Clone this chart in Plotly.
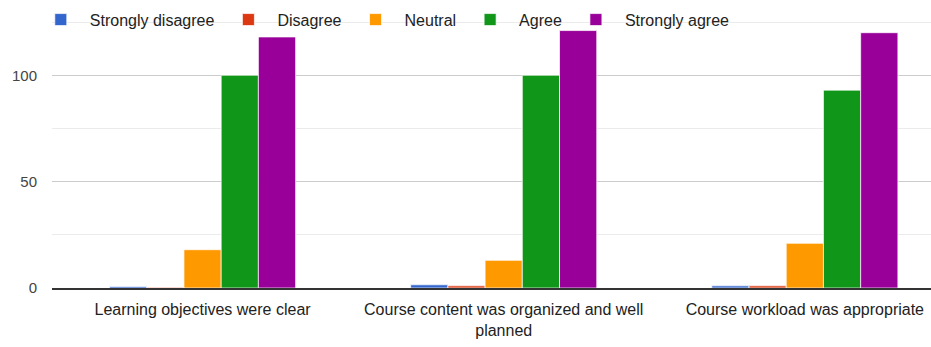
import plotly.graph_objects as go

# Survey responses per statement
categories = [
    "Learning objectives were clear",
    "Course content was organized and well<br>planned",
    "Course workload was appropriate",
]
series_names = ["Strongly disagree", "Disagree", "Neutral", "Agree", "Strongly agree"]
strongly_disagree = [0.7, 1.5, 1]
disagree = [0.3, 1, 1]
neutral = [18, 13, 21]
agree = [100, 100, 93]
strongly_agree = [118, 121, 120]
series_values = [strongly_disagree, disagree, neutral, agree, strongly_agree]
colors = ["#3366cc", "#dc3912", "#ff9900", "#109618", "#990099"]

y_ticks = [0, 50, 100]

fig = go.Figure()
for name, vals, col in zip(series_names, series_values, colors):
    fig.add_trace(go.Bar(
        name=name, x=categories, y=vals,
        marker=dict(color=col, line=dict(color="rgba(255,255,255,0.7)", width=1)),
    ))

font_family = "Liberation Sans, Arial, sans-serif"
fig.update_layout(
    width=931, height=347,
    margin=dict(l=52, r=0, t=21, b=59),
    paper_bgcolor="white", plot_bgcolor="white",
    barmode="group", bargap=0.382, bargroupgap=0,
    font=dict(family=font_family, size=16, color="#222222"),
    showlegend=True,
    legend=dict(
        orientation="h", x=-0.023, xanchor="left", y=1.005, yanchor="middle",
        bgcolor="rgba(255,255,255,0)", font=dict(size=16, color="#222222"),
        traceorder="normal", itemwidth=48,
    ),
    xaxis=dict(
        range=[-0.5, 2.419], showgrid=False, showline=True,
        linecolor="#333333", linewidth=1.5, ticks="", fixedrange=True,
        ticklabelstandoff=6,
        tickfont=dict(size=16, color="#222222"),
    ),
    yaxis=dict(
        range=[0, 125.5], tickvals=y_ticks, ticktext=[str(v) for v in y_ticks],
        showgrid=True, gridcolor="#cccccc", gridwidth=1,
        zeroline=False, showline=False, ticks="",
        ticklabelstandoff=14,
        tickfont=dict(size=15, color="#444444"),
        minor=dict(dtick=25, tick0=0, showgrid=True, gridcolor="#ebebeb", gridwidth=1),
    ),
)

fig.write_html("out.html")
